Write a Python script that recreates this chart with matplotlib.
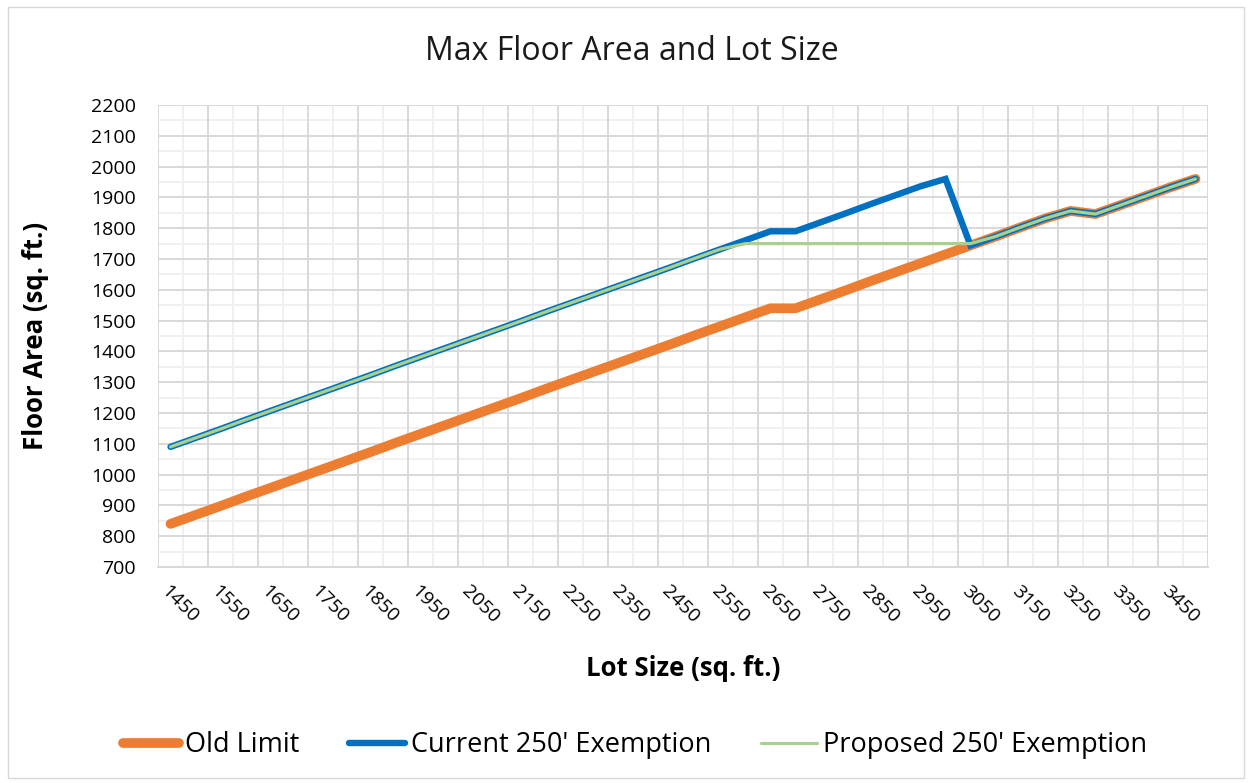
import numpy as np
import matplotlib
matplotlib.use("Agg")
import matplotlib.pyplot as plt
from matplotlib.patches import Rectangle

plt.rcParams['font.family'] = ['Open Sans', 'DejaVu Sans']

lot_sizes = [1450, 1500, 1550, 1600, 1650, 1700, 1750, 1800, 1850, 1900,
             1950, 2000, 2050, 2100, 2150, 2200, 2250, 2300, 2350, 2400,
             2450, 2500, 2550, 2600, 2650, 2700, 2750, 2800, 2850, 2900,
             2950, 3000, 3050, 3100, 3150, 3200, 3250, 3300, 3350, 3400,
             3450, 3500]

old_limit = [840, 869, 898, 928, 957, 986, 1015, 1044, 1073, 1103,
             1132, 1161, 1190, 1219, 1248, 1278, 1307, 1336, 1365, 1394,
             1423, 1453, 1482, 1511, 1540, 1540, 1569, 1598, 1628, 1657,
             1686, 1715, 1744, 1773, 1803, 1832, 1856, 1846, 1875, 1904,
             1933, 1960]

current_exemption = [1090, 1119, 1148, 1178, 1207, 1236, 1265, 1294, 1323, 1353,
                     1382, 1411, 1440, 1469, 1498, 1528, 1557, 1586, 1615, 1644,
                     1673, 1703, 1732, 1761, 1790, 1790, 1819, 1848, 1878, 1907,
                     1936, 1960, 1744, 1773, 1803, 1832, 1856, 1846, 1875, 1904,
                     1933, 1960]

proposed_exemption = [1090, 1119, 1148, 1178, 1207, 1236, 1265, 1294, 1323, 1353,
                      1382, 1411, 1440, 1469, 1498, 1528, 1557, 1586, 1615, 1644,
                      1673, 1703, 1732, 1750, 1750, 1750, 1750, 1750, 1750, 1750,
                      1750, 1750, 1750, 1773, 1803, 1832, 1856, 1846, 1875, 1904,
                      1933, 1960]

series_names = ["Old Limit", "Current 250' Exemption", "Proposed 250' Exemption"]
colors = ["#ED7D31", "#0070C0", "#A9D18E"]
widths = [7.0, 4.6, 2.3]

fig = plt.figure(figsize=(12.52, 7.83), dpi=100)
fig.patches.append(Rectangle((0.006, 0.006), 0.988, 0.985, transform=fig.transFigure,
                             fill=False, edgecolor="#d9d9d9", linewidth=1.0))

ax = fig.add_axes([158/1252, 1-567/783, (1208-158)/1252, (567-105)/783])

n = len(lot_sizes)
x = np.arange(n) + 0.5

for yv, c, w, lab in zip([old_limit, current_exemption, proposed_exemption], colors, widths, series_names):
    ax.plot(x, yv, color=c, lw=w, solid_capstyle='round', solid_joinstyle='miter', label=lab, zorder=3)

ax.set_xlim(0, n)
ax.set_ylim(700, 2200)

# vertical gridlines at category boundaries
for i in range(n + 1):
    if i % 2 == 0:
        ax.axvline(i, color="#d9d9d9", lw=1.4, zorder=1)
    else:
        ax.axvline(i, color="#f0f0f0", lw=1.4, zorder=0.5)

ax.set_yticks(np.arange(700, 2201, 100))
ax.set_yticks(np.arange(750, 2200, 100), minor=True)
ax.grid(axis='y', which='major', color="#d9d9d9", lw=1.4, zorder=1)
ax.grid(axis='y', which='minor', color="#f0f0f0", lw=1.4, zorder=0.5)
ax.set_axisbelow(True)

lab_pos = x[::2]
ax.set_xticks(lab_pos)
ax.set_xticklabels([str(v) for v in lot_sizes[::2]], rotation=-45, ha='left', va='top',
                   rotation_mode='anchor', fontsize=14)
ax.tick_params(axis='x', length=0, pad=11)
ax.tick_params(axis='y', length=0, pad=16, labelsize=14)
ax.tick_params(which='minor', length=0)

for s in ax.spines.values():
    s.set_visible(False)
ax.spines['bottom'].set_visible(True)
ax.spines['bottom'].set_color("#d9d9d9")
ax.spines['bottom'].set_linewidth(1.4)

fig.text(36/1252, 1-336/783, "Floor Area (sq. ft.)", fontsize=18.5, fontweight='bold',
         rotation=90, ha='center', va='center')
fig.text(683/1252, 1-668/783, "Lot Size (sq. ft.)", fontsize=18.5, fontweight='bold',
         ha='center', va='center')
fig.text(632/1252, 1-52/783, "Max Floor Area and Lot Size", fontsize=23,
         ha='center', va='center', color="#1a1a1a")

fig.legend(loc='center', bbox_to_anchor=(635/1252, 1-745/783), ncol=3, frameon=False,
           fontsize=19.5, handlelength=2.07, handletextpad=0.2, columnspacing=1.85)

fig.savefig("out.png", dpi=100)
